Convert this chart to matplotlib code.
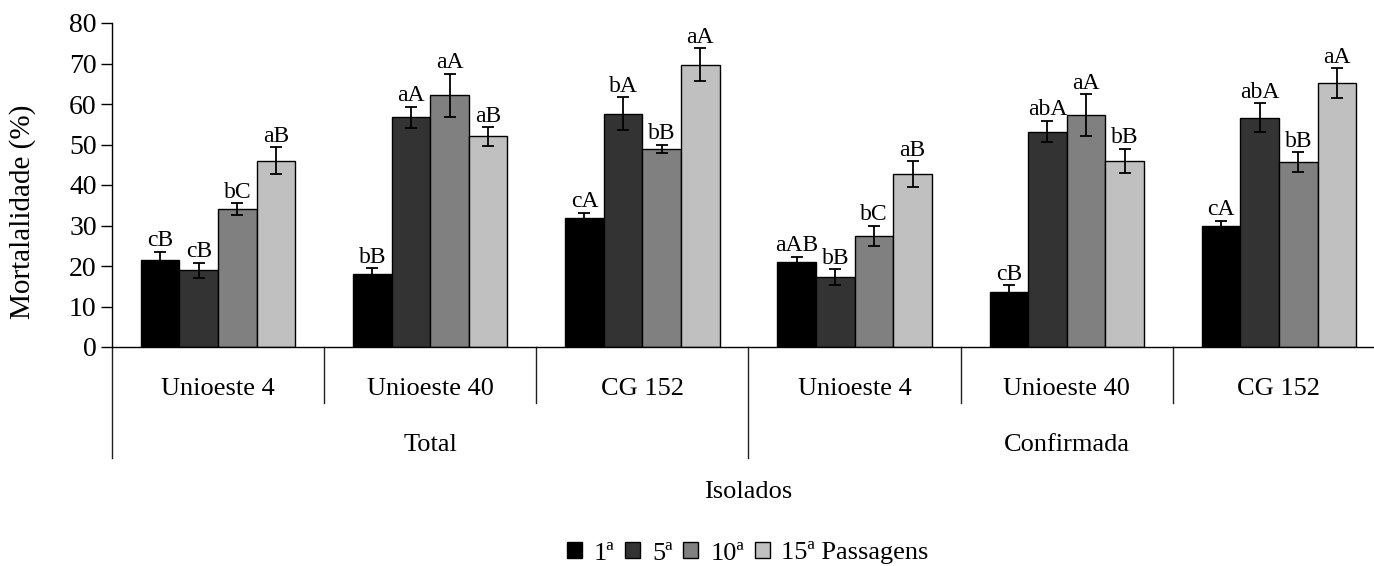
import matplotlib.pyplot as plt
from matplotlib.transforms import blended_transform_factory
from matplotlib.patches import Patch
import numpy as np

plt.rcParams['font.family'] = ['Liberation Serif', 'DejaVu Serif']

# isolates and the two mortality types
isolados = ['Unioeste 4', 'Unioeste 40', 'CG 152', 'Unioeste 4', 'Unioeste 40', 'CG 152']
tipos = ['Total', 'Confirmada']
passagens = ['1ª', '5ª', '10ª', '15ª Passagens']
cores = ['#000000', '#333333', '#808080', '#c0c0c0']

# mortality (%) per passage, one value per isolate
p1 = [21.6, 18.0, 31.8, 20.9, 13.7, 29.9]
p5 = [18.9, 56.7, 57.6, 17.2, 53.2, 56.6]
p10 = [34.1, 62.1, 48.9, 27.5, 57.2, 45.6]
p15 = [46.0, 52.0, 69.7, 42.7, 45.9, 65.2]

# standard errors
e1 = [1.9, 1.4, 1.3, 1.4, 1.5, 1.2]
e5 = [1.9, 2.6, 4.1, 2.0, 2.7, 3.6]
e10 = [1.4, 5.3, 1.1, 2.5, 5.2, 2.5]
e15 = [3.3, 2.3, 4.1, 3.2, 3.0, 3.6]

# letters from the mean comparison test
l1 = ['cB', 'bB', 'cA', 'aAB', 'cB', 'cA']
l5 = ['cB', 'aA', 'bA', 'bB', 'abA', 'abA']
l10 = ['bC', 'aA', 'bB', 'bC', 'aA', 'bB']
l15 = ['aB', 'aB', 'aA', 'aB', 'bB', 'aA']

series = [(p1, e1, l1), (p5, e5, l5), (p10, e10, l10), (p15, e15, l15)]

W, H = 1374, 566
fig = plt.figure(figsize=(W / 100, H / 100), dpi=100)
# axis runs past the right edge of the picture, like the original
ax = fig.add_axes([112 / W, (H - 347) / H, (1385 - 112) / W, 324 / H])

x = np.arange(len(isolados))
bw = 0.182
for i, (vals, errs, lets) in enumerate(series):
    pos = x + (i - 1.5) * bw
    ax.bar(pos, vals, bw, color=cores[i], edgecolor='black', linewidth=1, zorder=2)
    ax.errorbar(pos, vals, yerr=errs, fmt='none', ecolor='black',
                elinewidth=1.3, capsize=4, capthick=1.3, zorder=3)
    for xp, v, e, s in zip(pos, vals, errs, lets):
        ax.annotate(s, (xp, v + e), xytext=(0, 4), textcoords='offset points',
                    ha='center', va='baseline', fontsize=17)

ax.set_xlim(-0.5, len(isolados) - 0.5)
ax.set_ylim(0, 80)
ax.set_yticks(range(0, 81, 10))
ax.tick_params(axis='y', labelsize=20, length=8, width=1, pad=3, direction='out')
ax.set_xticks([])
for s in ['top', 'right']:
    ax.spines[s].set_visible(False)
ax.spines['left'].set_linewidth(1)
ax.spines['bottom'].set_linewidth(1)

# two level category axis below the bars
tr = blended_transform_factory(ax.transData, ax.transAxes)
for k in range(len(isolados) + 1):
    xs = k - 0.5
    low = -0.343 if k % 3 == 0 else -0.173
    ax.plot([xs, xs], [0, low], transform=tr, color='#202020', lw=1, clip_on=False)
for k, nome in enumerate(isolados):
    ax.text(k, -0.13, nome, transform=tr, ha='center', va='center', fontsize=19)
for j, t in enumerate(tipos):
    ax.text(3 * j + 1, -0.302, t, transform=tr, ha='center', va='center', fontsize=19)

fig.text(748 / W, 1 - 492 / H, 'Isolados', ha='center', va='center', fontsize=19)
fig.text(23 / W, 1 - 212 / H, 'Mortalalidade (%)', rotation=90,
         ha='center', va='center', fontsize=21)

handles = [Patch(facecolor=c, edgecolor='black', linewidth=1) for c in cores]
fig.legend(handles, passagens, loc='center', bbox_to_anchor=(748 / W, 1 - 553 / H),
           ncol=4, frameon=False, fontsize=19, handlelength=0.57, handleheight=0.57,
           handletextpad=0.45, columnspacing=0.4, borderpad=0, borderaxespad=0)

fig.savefig('out.png', dpi=100)
